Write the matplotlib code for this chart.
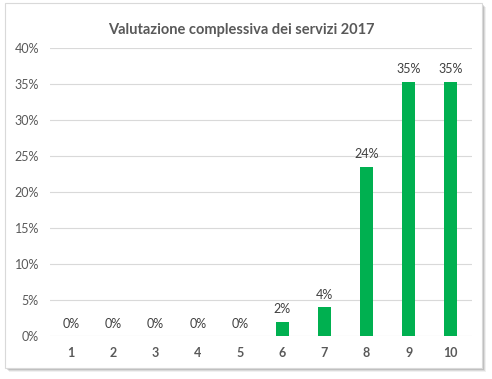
import matplotlib.pyplot as plt
from matplotlib.patches import Rectangle
from matplotlib.ticker import PercentFormatter

plt.rcParams['font.family'] = ['Lato', 'DejaVu Sans']

# dati
voti = ['1', '2', '3', '4', '5', '6', '7', '8', '9', '10']
percentuali = [0, 0, 0, 0, 0, 1.95, 4.0, 23.5, 35.3, 35.3]
etichette = ['0%', '0%', '0%', '0%', '0%', '2%', '4%', '24%', '35%', '35%']

fig = plt.figure(figsize=(4.92, 3.79), dpi=100)

# ombra e bordo del grafico
W, H = 492, 379
for i, a in enumerate([0.06, 0.09, 0.12]):
    off = 4 - i
    fig.patches.append(Rectangle(((5 + off) / W, 1 - (368 + off) / H), 477 / W, 365 / H,
                                 transform=fig.transFigure, facecolor='black',
                                 alpha=a, edgecolor='none', zorder=0))
fig.patches.append(Rectangle((5 / W, 1 - 368 / H), 477 / W, 365 / H,
                             transform=fig.transFigure, facecolor='white',
                             edgecolor='#d9d9d9', linewidth=0.8, zorder=1))

ax = fig.add_axes([50 / W, 43 / H, 422 / W, 288 / H])
ax.set_zorder(3)
ax.set_facecolor('none')
x = range(1, len(voti) + 1)
ax.bar(x, percentuali, width=0.31, color='#00b050', zorder=3)

for xi, v, t in zip(x, percentuali, etichette):
    ax.text(xi, v + 0.9, t, ha='center', va='bottom', fontsize=9, color='#404040')

ax.set_xlim(0.5, 10.5)
ax.set_ylim(0, 40)
ax.set_yticks(range(0, 41, 5))
ax.yaxis.set_major_formatter(PercentFormatter(decimals=0))
ax.set_xticks(list(x))
ax.set_xticklabels(voti, fontweight='bold')
ax.grid(axis='y', color='#d9d9d9', linewidth=0.8, zorder=0)
for s in ax.spines.values():
    s.set_visible(False)
ax.tick_params(length=0, colors='#595959', labelsize=9)
ax.tick_params(axis='x', pad=8)
ax.tick_params(axis='y', pad=8)

fig.text(241 / W, 1 - 30 / H, 'Valutazione complessiva dei servizi 2017',
         ha='center', va='center', fontsize=10.5, fontweight='bold', color='#595959')

fig.savefig('out.png', dpi=100)
